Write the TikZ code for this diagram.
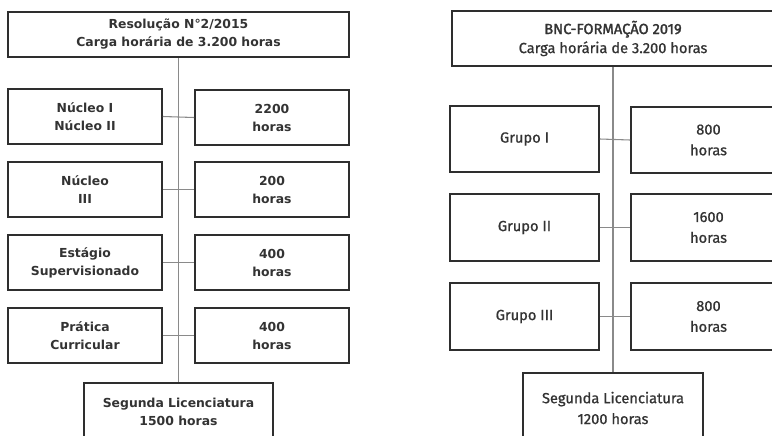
\documentclass[tikz,border=0pt]{standalone}
\usepackage{fontspec}
\newfontfamily\lfont{DejaVu Sans}
\newfontfamily\rfont{Fira Sans}[FakeBold=0.8]
\newfontfamily\rfontb{Fira Sans}[FakeBold=1.8]
\definecolor{boxline}{HTML}{2E2E2E}
\definecolor{txt}{HTML}{333333}
\definecolor{conn}{HTML}{8A8A8A}
\tikzset{
  box/.style={draw=boxline, line width=1.4pt, inner sep=0pt, align=center, text=txt},
  lfnt/.style={font={\lfont\bfseries\fontsize{9.3}{13.5}\selectfont}},
  rfnt/.style={font={\rfont\fontsize{11}{15.6}\selectfont}},
  lbox/.style={box, lfnt},
  rbox/.style={box, rfnt},
  lbl/.style={inner sep=0pt, align=center, text=txt},
  link/.style={draw=conn, line width=0.8pt}
}
\newcommand\bx[7]{\node[#7, minimum width={(#4-#2)*0.75pt}, minimum height={(#5-#3)*0.75pt}] (#1) at ({(#2+#4)/2},{(#3+#5)/2}) {#6};}
\begin{document}
\begin{tikzpicture}[x=0.75pt,y=-0.75pt]
\path[use as bounding box, clip] (0,0) rectangle (772,436);
\fill[white] (0,0) rectangle (772,436);
% ---------- left diagram ----------
\bx{lt}{8}{12}{349}{57}{Resolução N°2/2015\\Carga horária de 3.200 horas}{lbox}
\bx{lb}{84}{383}{273}{470}{}{lbox}
\node[lbl, lfnt] (lbt) at (178.5,412) {Segunda Licenciatura\\1500 horas};
\bx{l1}{8}{89}{162}{144}{Núcleo I\\Núcleo II}{lbox}
\bx{r1}{195}{90}{349}{145}{2200\\horas}{lbox}
\bx{l2}{8}{162}{162}{217}{Núcleo\\III}{lbox}
\bx{r2}{195}{162}{349}{217}{200\\horas}{lbox}
\bx{l3}{8}{235}{162}{290}{Estágio\\Supervisionado}{lbox}
\bx{r3}{195}{235}{349}{290}{400\\horas}{lbox}
\bx{l4}{8}{308}{162}{363}{Prática\\Curricular}{lbox}
\bx{r4}{195}{308}{349}{363}{400\\horas}{lbox}
\draw[link] (lt.south) -- (lb.north);
\draw[link] (l1.east) -- (r1.west);
\draw[link] (l2.east) -- (r2.west);
\draw[link] (l3.east) -- (r3.west);
\draw[link] (l4.east) -- (r4.west);
% ---------- right diagram ----------
\bx{rt}{452}{11}{774}{66}{{\rfontb BNC-FORMAÇÃO 2019}\\Carga horária de 3.200 horas}{rbox, font={\rfont\fontsize{11}{14.3}\selectfont}}
\bx{rb}{523}{373}{703}{470}{}{rbox}
\node[lbl, rfnt] (rbt) at (613,408) {Segunda Licenciatura\\1200 horas};
\bx{g1}{450}{106}{599}{172}{Grupo I}{rbox}
\bx{h1}{631}{107}{786}{173}{800\\horas}{rbox}
\bx{g2}{450}{194}{599}{261}{Grupo II}{rbox}
\bx{h2}{631}{194}{786}{261}{1600\\horas}{rbox}
\bx{g3}{450}{283}{599}{350}{Grupo III}{rbox}
\bx{h3}{631}{283}{786}{350}{800\\horas}{rbox}
\draw[link] (rt.south) -- (rb.north);
\draw[link] (g1.east) -- (h1.west);
\draw[link] (g2.east) -- (h2.west);
\draw[link] (g3.east) -- (h3.west);
\end{tikzpicture}
\end{document}
